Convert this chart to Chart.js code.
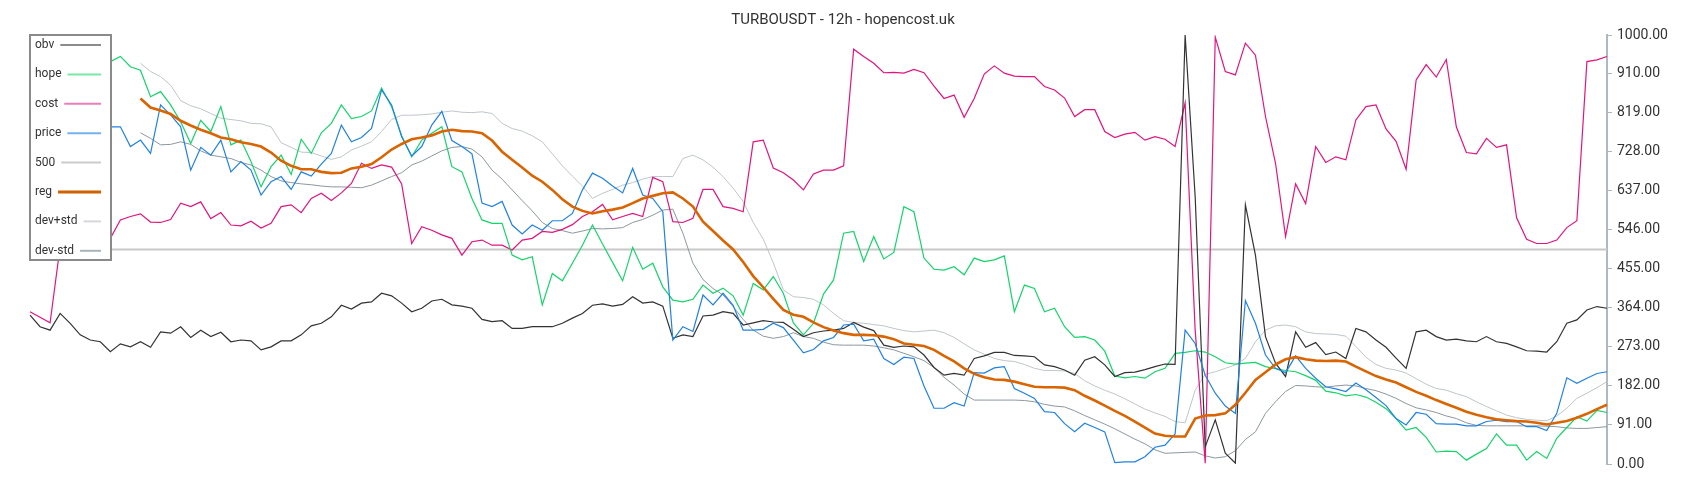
<!DOCTYPE html>
<html>
<head>
<meta charset="utf-8">
<title>TURBOUSDT - 12h - hopencost.uk</title>
<script src="https://cdn.jsdelivr.net/npm/chart.js@4.4.1/dist/chart.umd.min.js"></script>
<style>
  html, body { margin: 0; padding: 0; background: #fff; }
  #wrap { width: 1700px; height: 500px; }
</style>
</head>
<body>
<div id="wrap"><canvas id="myChart" width="1700" height="500"></canvas></div>
<script>
"use strict";

// values are on the 0..1000 scale shown on the right axis
const obvValues = [
  347, 320, 312, 351, 328, 301, 289, 285, 262, 280, 273, 285, 272, 308, 305, 320, 295, 312, 297, 307, 285, 289, 287, 266, 273, 287,
  287, 301, 322, 328, 343, 370, 361, 375, 378, 398, 392, 375, 355, 363, 380, 384, 371, 368, 363, 337, 332, 334, 316, 316, 320,
  320, 320, 328, 340, 351, 370, 373, 368, 372, 390, 375, 378, 368, 293, 301, 297, 345, 347, 355, 351, 324, 329, 334, 331, 330, 314, 297,
  306, 310, 312, 316, 330, 319, 311, 277, 272, 275, 273, 254, 225, 207, 211, 207, 246, 252, 260, 260, 253, 252, 250, 231, 227, 219,
  207, 242, 250, 231, 204, 213, 214, 220, 227, 233, 232, 1000, 623, 40, 103, 25, 2, 604, 487, 297, 235, 204, 308, 272, 283, 255,
  261, 246, 316, 308, 289, 272, 247, 223, 308, 312, 297, 289, 291, 287, 285, 297, 285, 281, 273, 264, 263, 261,
  285, 328, 336, 359, 367, 363
];

const hopeValues = [
  895, 911, 926, 918, 934, 942, 926, 934, 938, 950, 926, 918, 856, 868, 837, 798, 747, 801, 775, 833, 744, 755, 705, 646, 693, 720,
  675, 757, 724, 772, 794, 837, 805, 810, 823, 876, 833, 765, 716, 755, 771, 786, 693, 681, 619, 569, 561, 561, 487, 476, 483,
  371, 444, 427, 468, 510, 557, 513, 470, 427, 505, 454, 468, 413, 382, 378, 384, 417, 398, 410, 392, 347, 421, 406, 437, 398, 329, 301,
  328, 396, 429, 538, 542, 472, 530, 478, 493, 600, 588, 480, 454, 452, 460, 441, 480, 472, 476, 485, 355, 417, 409, 355, 363, 320,
  295, 297, 289, 263, 205, 201, 204, 200, 215, 223, 258, 260, 264, 261, 250, 236, 233, 235, 237, 227, 222, 218, 215, 206, 195, 170,
  166, 159, 162, 156, 144, 129, 106, 79, 85, 62, 28, 30, 29, 9, 23, 36, 70, 44, 44, 9, 29, 13,
  60, 85, 110, 100, 125, 120
];

const costValues = [
  355, 342, 329, 507, 514, 507, 514, 510, 526, 569, 577, 583, 564, 563, 570, 608, 600, 611, 572, 586, 557, 555, 566, 550, 561, 600,
  604, 586, 619, 631, 614, 632, 654, 701, 689, 697, 692, 653, 514, 553, 545, 534, 526, 487, 518, 522, 510, 510, 499, 522, 526,
  542, 540, 547, 558, 577, 588, 605, 569, 577, 584, 577, 668, 658, 565, 563, 573, 640, 640, 600, 596, 588, 751, 755, 690, 679, 662, 639,
  676, 685, 685, 695, 967, 950, 934, 912, 913, 911, 920, 912, 881, 852, 860, 808, 852, 909, 928, 911, 904, 903, 903, 880, 872, 853,
  810, 826, 826, 775, 761, 769, 773, 755, 763, 757, 740, 842, 312, 2, 995, 915, 907, 981, 953, 810, 701, 530, 653, 607, 740, 703,
  716, 709, 802, 833, 837, 781, 752, 687, 895, 931, 902, 943, 786, 726, 723, 759, 738, 744, 574, 524, 514, 514,
  522, 551, 567, 938, 942, 950
];

const priceValues = [
  771, 763, 779, 786, 771, 779, 763, 779, 786, 786, 740, 755, 724, 837, 814, 786, 685, 738, 720, 755, 681, 705, 685, 627, 658, 670,
  640, 681, 671, 699, 724, 790, 751, 761, 782, 872, 837, 763, 718, 740, 790, 822, 754, 740, 723, 608, 600, 612, 557, 536, 557,
  545, 567, 567, 584, 639, 678, 666, 648, 632, 689, 627, 619, 588, 289, 320, 309, 394, 371, 398, 370, 312, 312, 314, 328, 318, 289, 259,
  267, 287, 295, 324, 326, 287, 291, 246, 232, 249, 246, 182, 130, 130, 143, 135, 213, 212, 224, 227, 176, 165, 153, 122, 120, 94,
  75, 95, 85, 75, 3, 5, 5, 17, 39, 44, 70, 312, 281, 207, 165, 135, 118, 381, 328, 254, 223, 213, 252, 223, 200, 180,
  175, 169, 189, 173, 155, 136, 106, 91, 120, 116, 94, 93, 93, 89, 89, 99, 102, 99, 99, 87, 87, 78,
  118, 201, 188, 200, 211, 215
];

const fiveHundred = obvValues.map(() => 500);

const regValues = [
  null, null, null, null, null, null, null, null, null, null, null,
  852, 831, 824, 816, 800, 789, 779, 771, 761, 757, 750, 746, 740, 726, 707,
  695, 687, 687, 681, 678, 679, 689, 693, 699, 715, 733, 746, 757, 761, 766, 775, 779, 776, 775, 771, 754, 728, 709, 691, 672,
  658, 639, 617, 600, 590, 584, 589, 593, 598, 608, 619, 625, 631, 633, 619, 600, 565, 543, 521, 500, 471, 438, 412, 385, 359, 348, 343,
  330, 319, 311, 305, 301, 301, 300, 297, 291, 281, 278, 275, 266, 252, 239, 223, 210, 202, 197, 196, 192, 186, 180, 179, 179, 178,
  172, 159, 148, 136, 124, 112, 99, 85, 71, 66, 64, 64, 106, 113, 114, 118, 138, 166, 196, 214, 232, 244, 249, 244, 241, 240,
  241, 239, 227, 216, 205, 197, 190, 179, 168, 159, 149, 140, 131, 122, 115, 109, 104, 102, 100, 99, 96, 92,
  96, 100, 108, 117, 128, 138
];

const devPlusValues = [
  null, null, null, null, null, null, null, null, null, null, null,
  934, 915, 903, 883, 847, 835, 828, 817, 806, 803, 800, 794, 793, 786, 749,
  738, 727, 726, 718, 710, 716, 732, 741, 751, 775, 803, 813, 813, 814, 816, 820, 823, 820, 819, 821, 817, 794, 782, 776, 765,
  751, 723, 695, 671, 648, 619, 631, 640, 650, 656, 664, 670, 670, 670, 712, 720, 709, 692, 670, 643, 612, 563, 524, 469, 406, 390, 388,
  384, 371, 351, 334, 330, 328, 325, 322, 316, 311, 308, 310, 312, 306, 295, 280, 266, 256, 246, 241, 239, 232, 223, 218, 218, 217,
  211, 194, 182, 172, 163, 152, 140, 128, 119, 111, 99, 96, 172, 209, 215, 223, 231, 246, 285, 312, 322, 324, 320, 308, 304, 303,
  302, 298, 274, 249, 232, 223, 219, 212, 199, 186, 176, 172, 164, 157, 145, 134, 124, 114, 108, 104, 102, 101,
  112, 130, 153, 165, 178, 192
];

const devMinusValues = [
  null, null, null, null, null, null, null, null, null, null, null,
  772, 759, 744, 745, 751, 745, 730, 720, 716, 712, 703, 697, 685, 670, 660,
  656, 653, 651, 648, 646, 646, 645, 644, 650, 660, 670, 679, 697, 706, 718, 730, 738, 740, 734, 716, 685, 664, 639, 614, 590,
  563, 549, 544, 538, 543, 549, 548, 549, 551, 563, 570, 580, 592, 594, 538, 468, 430, 409, 394, 367, 337, 312, 298, 293, 297, 306, 297,
  293, 284, 278, 277, 277, 277, 275, 271, 266, 258, 250, 241, 225, 202, 184, 163, 149, 149, 149, 149, 149, 148, 145, 139, 135, 133,
  124, 113, 103, 93, 82, 70, 58, 47, 33, 25, 26, 27, 28, 19, 14, 17, 31, 57, 75, 118, 145, 169, 183, 182, 180, 179,
  182, 184, 182, 176, 171, 163, 153, 141, 131, 126, 120, 112, 106, 96, 90, 89, 89, 89, 89, 89, 89, 88,
  87, 84, 83, 83, 85, 87
];

const candles = obvValues.map((_, i) => i);

const tickValues = [0, 91, 182, 273, 364, 455, 546, 637, 728, 819, 910, 1000];

const legendNames = ["obv", "hope", "cost", "price", "500", "reg", "dev+std", "dev-std"];
const legendColors = ["#8c8c8c", "#78e8a8", "#ee7cb8", "#74b2ee", "#cccccc", "#d06000", "#d4d8dc", "#a9b3ba"];

// tick labels of the right axis, placed from the scale itself
const axisLabels = {
  id: "axisLabels",
  afterDraw(chart) {
    const ctx = chart.ctx;
    const y = chart.scales.y;
    ctx.save();
    ctx.font = "14px Roboto";
    ctx.fillStyle = "#333";
    ctx.textBaseline = "middle";
    ctx.textAlign = "left";
    for (let i = 0; i < tickValues.length; i++) {
      ctx.fillText(tickValues[i].toFixed(2), y.left + 10, y.getPixelForValue(tickValues[i]));
    }
    ctx.restore();
  },
};

// legend is a white box drawn over the top-left corner of the plot
const boxLegend = {
  id: "boxLegend",
  afterDraw(chart) {
    const ctx = chart.ctx;
    ctx.save();
    ctx.fillStyle = "#fff";
    ctx.fillRect(30, 35, 81, 225);
    ctx.strokeStyle = "#8a8a8a";
    ctx.lineWidth = 2;
    ctx.strokeRect(30, 35, 81, 225);
    ctx.font = "12px Roboto";
    ctx.textBaseline = "middle";
    ctx.textAlign = "left";
    for (let i = 0; i < legendNames.length; i++) {
      let y = 45 + i * 29.4;
      ctx.fillStyle = "#333";
      ctx.fillText(legendNames[i], 35, y);
      let w = ctx.measureText(legendNames[i]).width;
      ctx.strokeStyle = legendColors[i];
      ctx.lineWidth = legendNames[i] === "reg" ? 3 : 2;
      ctx.beginPath();
      ctx.moveTo(35 + w + 6, y);
      ctx.lineTo(101, y);
      ctx.stroke();
    }
    ctx.restore();
  },
};

function line(label, data, color, width, order) {
  return {
    label: label,
    data: data,
    borderColor: color,
    backgroundColor: color,
    borderWidth: width,
    pointRadius: 0,
    tension: 0,
    fill: false,
    order: order,
  };
}

const data = {
  labels: candles,
  datasets: [
    line("obv", obvValues, "#333333", 1.2, 2),
    line("hope", hopeValues, "#14d46a", 1.2, 3),
    line("cost", costValues, "#e2147e", 1.2, 4),
    line("price", priceValues, "#1f82e2", 1.2, 1),
    line("500", fiveHundred, "#c8c8c8", 2, 7),
    line("reg", regValues, "#d96400", 2.6, 0),
    line("dev+std", devPlusValues, "#bfc5cb", 1, 6),
    line("dev-std", devMinusValues, "#8c979f", 1, 5),
  ],
};

const config = {
  type: "line",
  data: data,
  plugins: [boxLegend, axisLabels],
  options: {
    responsive: false,
    animation: false,
    devicePixelRatio: 1,
    layout: { padding: { left: 30, right: 44, top: 0, bottom: 36 } },
    plugins: {
      legend: { display: false },
      tooltip: { enabled: false },
      title: {
        display: true,
        text: "TURBOUSDT - 12h - hopencost.uk",
        color: "#333",
        font: { family: "Roboto", size: 15, weight: "normal" },
        padding: { top: 11, bottom: 6 },
      },
    },
    scales: {
      x: { display: false },
      y: {
        position: "right",
        min: 0,
        max: 1000,
        afterBuildTicks: (scale) => {
          scale.ticks = tickValues.map((v) => ({ value: v }));
        },
        afterFit: (scale) => {
          scale.width = 49;
        },
        grid: { drawOnChartArea: false, tickLength: 5, color: "#b0b8bf", tickColor: "#b0b8bf" },
        border: { display: true, color: "#b0b8bf", width: 2 },
        ticks: { display: false },
      },
    },
  },
};

const canvasChart = document.getElementById("myChart");
new Chart(canvasChart, config);
</script>
</body>
</html>
